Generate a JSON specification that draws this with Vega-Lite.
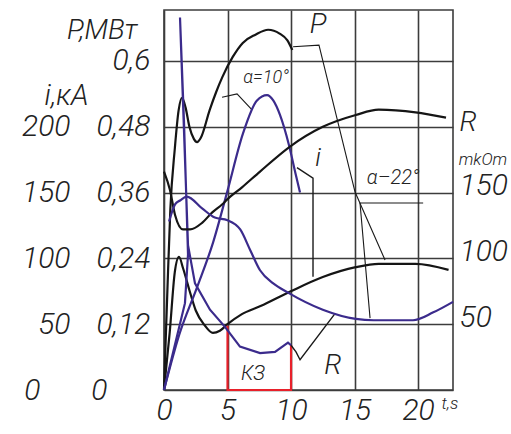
{
  "$schema": "https://vega.github.io/schema/vega-lite/v6.json",
  "width": 289,
  "height": 380,
  "autosize": {"type": "none"},
  "padding": {"left": 164, "top": 10, "right": 58, "bottom": 44},
  "background": "white",
  "config": {
    "view": {"stroke": "#3c3c3c", "strokeWidth": 1.6},
    "font": "Roboto",
    "axis": {
      "labelFont": "Roboto", "labelFontStyle": "italic", "labelFontWeight": 300, "labelColor": "#222",
      "titleFont": "Roboto", "titleFontStyle": "italic", "titleFontWeight": 300, "titleColor": "#222",
      "ticks": false, "domain": false, "gridColor": "#3c3c3c", "gridWidth": 1.6, "gridOpacity": 1
    },
    "text": {"font": "Roboto", "fontStyle": "italic", "fontWeight": 300, "color": "#222"}
  },
  "datasets": {
    "pc": [
      {"curve": "P10", "t": 0, "P": 0}, {"curve": "P10", "t": 0.25, "P": 0.17}, {"curve": "P10", "t": 0.5, "P": 0.33},
      {"curve": "P10", "t": 0.85, "P": 0.44}, {"curve": "P10", "t": 1.15, "P": 0.51}, {"curve": "P10", "t": 1.42, "P": 0.533},
      {"curve": "P10", "t": 1.7, "P": 0.515}, {"curve": "P10", "t": 2.0, "P": 0.48}, {"curve": "P10", "t": 2.35, "P": 0.458},
      {"curve": "P10", "t": 2.6, "P": 0.452}, {"curve": "P10", "t": 2.9, "P": 0.46}, {"curve": "P10", "t": 3.6, "P": 0.511},
      {"curve": "P10", "t": 4.1, "P": 0.543}, {"curve": "P10", "t": 4.6, "P": 0.571}, {"curve": "P10", "t": 5.4, "P": 0.607},
      {"curve": "P10", "t": 6.2, "P": 0.633}, {"curve": "P10", "t": 7.2, "P": 0.648}, {"curve": "P10", "t": 8.2, "P": 0.657},
      {"curve": "P10", "t": 9.1, "P": 0.65}, {"curve": "P10", "t": 9.7, "P": 0.638}, {"curve": "P10", "t": 10.1, "P": 0.62},
      {"curve": "P22", "t": 0, "P": 0}, {"curve": "P22", "t": 0.45, "P": 0.105}, {"curve": "P22", "t": 0.85, "P": 0.215},
      {"curve": "P22", "t": 1.18, "P": 0.243}, {"curve": "P22", "t": 1.5, "P": 0.222}, {"curve": "P22", "t": 2.0, "P": 0.182},
      {"curve": "P22", "t": 2.5, "P": 0.145}, {"curve": "P22", "t": 3.2, "P": 0.118}, {"curve": "P22", "t": 3.85, "P": 0.104},
      {"curve": "P22", "t": 4.4, "P": 0.108}, {"curve": "P22", "t": 5.0, "P": 0.12}, {"curve": "P22", "t": 6.1, "P": 0.138},
      {"curve": "P22", "t": 7.6, "P": 0.153}, {"curve": "P22", "t": 9.9, "P": 0.179}, {"curve": "P22", "t": 12.5, "P": 0.206},
      {"curve": "P22", "t": 15.1, "P": 0.224}, {"curve": "P22", "t": 16.9, "P": 0.23}, {"curve": "P22", "t": 19.8, "P": 0.23},
      {"curve": "P22", "t": 22.4, "P": 0.219}
    ],
    "kz": [
      {"t": 5, "P": 0.117, "seq": 1}, {"t": 5, "P": 0, "seq": 2}, {"t": 10, "P": 0, "seq": 3}, {"t": 10, "P": 0.082, "seq": 4}
    ],
    "pl": [
      {"id": "a10", "t": 4.57, "P": 0.534, "seq": 1}, {"id": "a10", "t": 5.75, "P": 0.54, "seq": 2}, {"id": "a10", "t": 6.93, "P": 0.511, "seq": 3},
      {"id": "p", "t": 10.16, "P": 0.626, "seq": 1}, {"id": "p", "t": 12.2, "P": 0.629, "seq": 2}, {"id": "p", "t": 15.04, "P": 0.361, "seq": 3}, {"id": "p", "t": 17.4, "P": 0.237, "seq": 4},
      {"id": "a22", "t": 20.4, "P": 0.341, "seq": 1}, {"id": "a22", "t": 15.43, "P": 0.341, "seq": 2}, {"id": "a22", "t": 16.22, "P": 0.131, "seq": 3}
    ],
    "ie": [
      {"t": 0, "i": 0}, {"t": 1.2, "i": 42}, {"t": 2.6, "i": 78}, {"t": 3.86, "i": 112}, {"t": 4.96, "i": 150},
      {"t": 6.22, "i": 195}, {"t": 7.32, "i": 220}, {"t": 8.11, "i": 224}, {"t": 8.6, "i": 220}, {"t": 9.13, "i": 209},
      {"t": 9.84, "i": 186}, {"t": 10.39, "i": 163}, {"t": 10.71, "i": 150}
    ],
    "ih": [
      {"t": 0, "i": 0, "seq": 1}, {"t": 1.65, "i": 66, "seq": 2}, {"t": 1.89, "i": 103, "seq": 3}, {"t": 1.57, "i": 205, "seq": 4},
      {"t": 1.26, "i": 283, "seq": 5}, {"t": 1.57, "i": 198, "seq": 6}, {"t": 1.89, "i": 110, "seq": 7}, {"t": 2.44, "i": 81, "seq": 8},
      {"t": 3.62, "i": 61, "seq": 9}, {"t": 4.8, "i": 48, "seq": 10}, {"t": 5.98, "i": 33, "seq": 11}, {"t": 7.56, "i": 28, "seq": 12},
      {"t": 8.74, "i": 29, "seq": 13}, {"t": 9.76, "i": 36, "seq": 14}, {"t": 10.0, "i": 34, "seq": 15}
    ],
    "il": [
      {"id": "i", "t": 10.47, "i": 169, "seq": 1}, {"id": "i", "t": 11.73, "i": 161, "seq": 2}, {"id": "i", "t": 11.73, "i": 86, "seq": 3},
      {"id": "r", "t": 10.0, "i": 34, "seq": 1}, {"id": "r", "t": 10.39, "i": 29, "seq": 2}, {"id": "r", "t": 10.71, "i": 23, "seq": 3}, {"id": "r", "t": 13.46, "i": 58, "seq": 4}
    ],
    "rc": [
      {"curve": "R10", "t": 0, "R": 166}, {"curve": "R10", "t": 0.47, "R": 152}, {"curve": "R10", "t": 0.87, "R": 133},
      {"curve": "R10", "t": 1.5, "R": 122}, {"curve": "R10", "t": 2.05, "R": 122}, {"curve": "R10", "t": 3.0, "R": 127},
      {"curve": "R10", "t": 3.8, "R": 135}, {"curve": "R10", "t": 4.57, "R": 141}, {"curve": "R10", "t": 5.0, "R": 145},
      {"curve": "R10", "t": 6.14, "R": 154}, {"curve": "R10", "t": 7.56, "R": 166}, {"curve": "R10", "t": 9.92, "R": 185},
      {"curve": "R10", "t": 12.5, "R": 200}, {"curve": "R10", "t": 15.1, "R": 209}, {"curve": "R10", "t": 16.9, "R": 213},
      {"curve": "R10", "t": 19.8, "R": 211}, {"curve": "R10", "t": 22.2, "R": 207},
      {"curve": "R22", "t": 0.4, "R": 128}, {"curve": "R22", "t": 0.87, "R": 141}, {"curve": "R22", "t": 1.26, "R": 144},
      {"curve": "R22", "t": 1.8, "R": 147}, {"curve": "R22", "t": 3.0, "R": 138}, {"curve": "R22", "t": 4.0, "R": 131},
      {"curve": "R22", "t": 5.0, "R": 129}, {"curve": "R22", "t": 6.0, "R": 122}, {"curve": "R22", "t": 6.8, "R": 106},
      {"curve": "R22", "t": 7.56, "R": 91}, {"curve": "R22", "t": 8.6, "R": 81}, {"curve": "R22", "t": 9.76, "R": 74},
      {"curve": "R22", "t": 12.5, "R": 61}, {"curve": "R22", "t": 15.1, "R": 54}, {"curve": "R22", "t": 16.5, "R": 53},
      {"curve": "R22", "t": 19.6, "R": 53}, {"curve": "R22", "t": 21.2, "R": 59}, {"curve": "R22", "t": 22.75, "R": 67}
    ]
  },
  "layer": [
    {
      "layer": [
        {
          "data": {"name": "pc"},
          "mark": {"type": "line", "color": "#151515", "strokeWidth": 2.2, "interpolate": "monotone"},
          "encoding": {
            "x": {
              "field": "t", "type": "quantitative",
              "scale": {"domain": [0, 22.75], "nice": false, "zero": false},
              "axis": {
                "values": [0, 5, 10, 15, 20], "grid": true, "labelFontSize": 30, "labelPadding": 5,
                "labelFlush": false, "title": "t,s", "titleFontSize": 17, "titleX": 277, "titleY": 18,
                "titleAlign": "left", "titleBaseline": "alphabetic"
              }
            },
            "y": {
              "field": "P", "type": "quantitative",
              "scale": {"domain": [0, 0.693], "nice": false},
              "axis": {
                "orient": "left", "values": [0, 0.12, 0.24, 0.36, 0.48, 0.6], "grid": true,
                "labelExpr": "replace(format(datum.value, '.2~f'), '.', ',')",
                "labelFontSize": 30, "labelBaseline": "middle",
                "labelPadding": {"condition": {"test": "datum.value == 0", "value": 57}, "value": 14},
                "title": "P,МВт", "titleFontSize": 28, "titleAngle": 0, "titleAlign": "right",
                "titleBaseline": "alphabetic", "titleX": -27, "titleY": 28
              }
            },
            "detail": {"field": "curve"}
          }
        },
        {
          "data": {"name": "kz"},
          "mark": {"type": "line", "color": "#e8202a", "strokeWidth": 2.2},
          "encoding": {
            "x": {"field": "t", "type": "quantitative"},
            "y": {"field": "P", "type": "quantitative"},
            "order": {"field": "seq"}
          }
        },
        {
          "data": {"name": "pl"},
          "mark": {"type": "line", "color": "#1a1a1a", "strokeWidth": 1.1},
          "encoding": {
            "x": {"field": "t", "type": "quantitative"},
            "y": {"field": "P", "type": "quantitative"},
            "detail": {"field": "id"},
            "order": {"field": "seq"}
          }
        },
        {
          "data": {"values": [{"label": "P", "t": 12.13, "P": 0.666}]},
          "mark": {"type": "text", "align": "center", "baseline": "middle", "fontSize": 28},
          "encoding": {"x": {"field": "t", "type": "quantitative"}, "y": {"field": "P", "type": "quantitative"}, "text": {"field": "label"}}
        },
        {
          "data": {"values": [{"label": "α=10°", "t": 8.03, "P": 0.569}]},
          "mark": {"type": "text", "align": "center", "baseline": "middle", "fontSize": 18},
          "encoding": {"x": {"field": "t", "type": "quantitative"}, "y": {"field": "P", "type": "quantitative"}, "text": {"field": "label"}}
        },
        {
          "data": {"values": [{"label": "α–22°", "t": 18.03, "P": 0.387}, {"label": "КЗ", "t": 7.0, "P": 0.029}]},
          "mark": {"type": "text", "align": "center", "baseline": "middle", "fontSize": 20},
          "encoding": {"x": {"field": "t", "type": "quantitative"}, "y": {"field": "P", "type": "quantitative"}, "text": {"field": "label"}}
        }
      ]
    },
    {
      "layer": [
        {
          "data": {"name": "ie"},
          "mark": {"type": "line", "color": "#3b2b8c", "strokeWidth": 2.2, "interpolate": "monotone"},
          "encoding": {
            "x": {"field": "t", "type": "quantitative"},
            "y": {
              "field": "i", "type": "quantitative",
              "scale": {"domain": [0, 288.75], "nice": false},
              "axis": {
                "orient": "left", "values": [0, 50, 100, 150, 200], "grid": false,
                "labelFontSize": 30, "labelBaseline": "middle",
                "labelPadding": {"condition": {"test": "datum.value == 0", "value": 124}, "value": 94},
                "title": "i,кА", "titleFontSize": 29, "titleAngle": 0, "titleAlign": "right",
                "titleBaseline": "alphabetic", "titleX": -76, "titleY": 94
              }
            }
          }
        },
        {
          "data": {"name": "ih"},
          "mark": {"type": "line", "color": "#3b2b8c", "strokeWidth": 2.2},
          "encoding": {
            "x": {"field": "t", "type": "quantitative"},
            "y": {"field": "i", "type": "quantitative"},
            "order": {"field": "seq"}
          }
        },
        {
          "data": {"name": "il"},
          "mark": {"type": "line", "color": "#1a1a1a", "strokeWidth": 1.4},
          "encoding": {
            "x": {"field": "t", "type": "quantitative"},
            "y": {"field": "i", "type": "quantitative"},
            "detail": {"field": "id"},
            "order": {"field": "seq"}
          }
        },
        {
          "data": {"values": [{"label": "i", "t": 12.13, "i": 176}]},
          "mark": {"type": "text", "align": "center", "baseline": "middle", "fontSize": 26},
          "encoding": {"x": {"field": "t", "type": "quantitative"}, "y": {"field": "i", "type": "quantitative"}, "text": {"field": "label"}}
        },
        {
          "data": {"values": [{"label": "R", "t": 13.3, "i": 18}]},
          "mark": {"type": "text", "align": "center", "baseline": "middle", "fontSize": 28},
          "encoding": {"x": {"field": "t", "type": "quantitative"}, "y": {"field": "i", "type": "quantitative"}, "text": {"field": "label"}}
        }
      ]
    },
    {
      "layer": [
        {
          "data": {"name": "rc"},
          "mark": {"type": "line", "strokeWidth": 2.2, "interpolate": "monotone"},
          "encoding": {
            "x": {"field": "t", "type": "quantitative"},
            "y": {
              "field": "R", "type": "quantitative",
              "scale": {"domain": [0, 288.75], "nice": false},
              "axis": {
                "orient": "right", "values": [50, 100, 150], "grid": false,
                "labelFontSize": 30, "labelPadding": 6, "labelOffset": -7, "labelAlign": "left", "labelBaseline": "middle",
                "title": "R", "titleFontSize": 28, "titleAngle": 0, "titleAlign": "left",
                "titleBaseline": "alphabetic", "titleX": 6, "titleY": 120
              }
            },
            "color": {"field": "curve", "type": "nominal", "scale": {"domain": ["R10", "R22"], "range": ["#151515", "#3b2b8c"]}, "legend": null}
          }
        },
        {
          "data": {"values": [{"label": "mkOm", "t": 23.2, "R": 175}]},
          "mark": {"type": "text", "align": "left", "baseline": "middle", "fontSize": 17},
          "encoding": {
            "x": {"field": "t", "type": "quantitative"},
            "y": {"field": "R", "type": "quantitative"},
            "text": {"field": "label"}
          }
        }
      ]
    }
  ],
  "resolve": {"scale": {"y": "independent"}, "axis": {"y": "independent"}}
}
